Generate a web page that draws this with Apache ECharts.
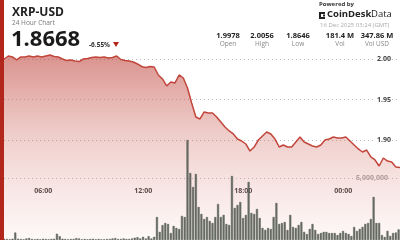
<!DOCTYPE html>
<html><head><meta charset="utf-8">
<script src="https://cdn.jsdelivr.net/npm/echarts@6/dist/echarts.min.js"></script>
<style>html,body{margin:0;padding:0;background:#fff}#c{width:400px;height:240px}</style>
</head><body><div id="c"></div>
<script>
// Price every 15 minutes from 03:24 (15 Dec) to 03:24 (16 Dec)
const priceStepMin = 15;
const prices = [1.9975,2.0000,2.0037,2.0025,1.9988,2.0025,2.0025,2.0037,2.0025,2.0037,
2.0025,2.0037,2.0049,2.0031,2.0025,2.0000,1.9982,1.9988,1.9975,1.9969,
2.0000,2.0006,2.0018,2.0025,2.0018,2.0025,2.0012,2.0018,2.0037,1.9994,
1.9982,1.9975,1.9963,1.9939,1.9908,1.9896,1.9908,1.9902,1.9804,1.9755,
1.9669,1.9718,1.9706,1.9804,1.9767,1.9644,1.9460,1.9288,1.9264,1.9350,
1.9337,1.9337,1.9288,1.9227,1.9166,1.9117,1.9080,1.9018,1.8994,1.8957,
1.8871,1.8920,1.9006,1.9055,1.9104,1.9080,1.9018,1.8920,1.8945,1.8920,
1.8920,1.8982,1.9043,1.8982,1.8957,1.8932,1.8920,1.8945,1.9006,1.9018,
1.9043,1.9031,1.9031,1.9043,1.8994,1.8945,1.8896,1.8859,1.8883,1.8798,
1.8761,1.8687,1.8785,1.8748,1.8736,1.8675,1.8668];
// Volume every 10 minutes, in millions
const volStepMin = 10;
const volumesM = [0.05,0.1,0.08,0.05,0.1,0.6,0.1,0.08,0.05,0.12,
0.15,0.08,0.05,0.08,0.05,0.1,0.08,0.05,0.08,0.1,
0.5,0.3,0.1,0.08,0.05,0.08,0.08,0.15,0.12,0.05,
0.08,0.05,0.08,0.1,0.05,0.08,0.05,0.05,0.08,0.08,
0.12,0.15,0.08,0.08,0.12,0.08,0.08,0.12,0.18,0.22,
0.12,0.25,0.12,0.3,0.12,0.25,1.85,0.65,1.2,1.37,
1.29,0.56,1.13,0.97,0.89,1.94,1.85,8.06,5.4,4.27,
5.32,2.66,2.1,1.69,1.85,1.53,1.37,1.85,2.9,1.85,
2.02,1.29,1.21,5.16,2.58,2.82,3.06,1.77,2.02,4.68,
2.18,2.1,2.5,1.77,0.97,0.81,0.97,0.89,1.85,2.98,
1.29,1.37,1.45,0.81,2.02,1.05,0.97,1.21,1.45,0.65,
0.48,0.89,1.29,0.81,0.48,0.56,0.65,0.65,0.56,0.56,
0.56,0.4,0.56,0.73,0.56,0.48,0.32,1.05,0.73,0.89,
1.05,1.29,1.37,1.69,3.47,1.37,1.37,0.4,0.24,0.73,
0.32,0.56,0.6,0.85];
const timeTicks = [156, 516, 876, 1236];
const timeLabels = ['06:00', '12:00', '18:00', '00:00'];
const priceTicks = [1.90, 1.95, 2.00];
const volTicks = [5000000];
const title = 'XRP-USD';
const subtitle = '24 Hour Chart';
const lastPrice = '1.8668';
const change = '-6.55%';
const statValues = ['1.9978', '2.0056', '1.8646', '181.4 M', '347.86 M'];
const statNames = ['Open', 'High', 'Low', 'Vol', 'Vol USD'];
const dateText = '16 Dec 2025 03:24 (GMT)';

const FONT = '"Open Sans", "Noto Sans", sans-serif';
const chart = echarts.init(document.getElementById('c'), null, {renderer: 'canvas'});
const priceData = prices.map((p, i) => [i * priceStepMin, p]);
const volData = volumesM.map((v, i) => [i * volStepMin + volStepMin / 2, v * 1e6]);
const statX = [228, 262, 298, 340, 377];

const graphics = [
  {type: 'rect', left: 0, top: 0, shape: {width: 4, height: 240}, style: {fill: '#b3261b'}, z: 100},
  {type: 'text', x: 12, y: 7, style: {text: title, font: 'bold 12px ' + FONT, fill: '#222'}, z: 100},
  {type: 'text', x: 12, y: 20, style: {text: subtitle, font: '6.5px ' + FONT, fill: '#777'}, z: 100},
  {type: 'text', x: 11, y: 29, style: {text: lastPrice, font: 'bold 22px ' + FONT, fill: '#1a1a1a'}, z: 100},
  {type: 'text', x: 89, y: 41.5, style: {text: change, font: 'bold 6.5px ' + FONT, fill: '#333'}, z: 100},
  {type: 'polygon', shape: {points: [[113, 42], [119, 42], [116, 47]]}, style: {fill: '#b3261b'}, z: 100},
  {type: 'text', x: 319, y: 1, style: {text: 'Powered by', font: 'bold 6px ' + FONT, fill: '#333'}, z: 100},
  {type: 'rect', shape: {x: 319, y: 12, width: 2, height: 7}, style: {fill: '#222'}, z: 100},
  {type: 'rect', shape: {x: 319, y: 12, width: 6, height: 2}, style: {fill: '#222'}, z: 100},
  {type: 'rect', shape: {x: 319, y: 17, width: 6, height: 2}, style: {fill: '#222'}, z: 100},
  {type: 'rect', shape: {x: 323, y: 14.5, width: 2, height: 2}, style: {fill: '#222'}, z: 100},
  {type: 'text', x: 327, y: 9, style: {text: 'CoinDesk', font: 'bold 9.5px ' + FONT, fill: '#222'}, z: 100},
  {type: 'text', x: 371, y: 9, style: {text: 'Data', font: '9.5px ' + FONT, fill: '#222'}, z: 100},
  {type: 'text', x: 320, y: 22, style: {text: dateText, font: '6px ' + FONT, fill: '#aaa'}, z: 100}
];
statValues.forEach((v, i) => {
  graphics.push({type: 'text', x: statX[i], y: 32, style: {text: v, font: 'bold 7.5px ' + FONT, fill: '#222', align: 'center'}, z: 100});
  graphics.push({type: 'text', x: statX[i], y: 41, style: {text: statNames[i], font: '6.5px ' + FONT, fill: '#888', align: 'center'}, z: 100});
});

chart.setOption({
  animation: false,
  backgroundColor: '#fff',
  grid: [
    {left: 0, right: 0, top: 0, bottom: 0},
    {left: 0, right: 0, top: 130, bottom: 0}
  ],
  xAxis: [
    {gridIndex: 0, type: 'value', min: 0, max: 1440, show: false},
    {gridIndex: 1, type: 'value', min: 0, max: 1440,
     axisLine: {show: false}, axisTick: {show: false}, splitLine: {show: false},
     axisLabel: {inside: true, margin: 46, customValues: timeTicks,
       formatter: v => timeLabels[timeTicks.indexOf(v)] || '',
       color: '#444', fontWeight: 'bold', fontSize: 7, fontFamily: FONT}}
  ],
  yAxis: [
    {gridIndex: 0, type: 'value', position: 'right', min: 1.7779, max: 2.0724,
     axisLine: {show: false}, axisTick: {show: false, customValues: priceTicks},
     splitLine: {show: true, lineStyle: {color: '#bbb', type: [1, 3], width: 1}},
     axisLabel: {inside: true, margin: 8, customValues: priceTicks, formatter: v => v.toFixed(2),
       color: '#444', fontWeight: 'bold', fontSize: 7, fontFamily: FONT,
       backgroundColor: '#fff', padding: [1, 1, 1, 4]}},
    {gridIndex: 1, type: 'value', position: 'right', min: 0, max: 8870968,
     axisLine: {show: false}, axisTick: {show: false, customValues: volTicks},
     splitLine: {show: true, lineStyle: {color: '#bbb', type: [1, 3], width: 1}},
     axisLabel: {inside: true, margin: 12, customValues: volTicks,
       formatter: v => v.toLocaleString('en-US'),
       color: '#aaa', fontWeight: 'bold', fontSize: 7, fontFamily: FONT}}
  ],
  series: [
    {type: 'line', xAxisIndex: 0, yAxisIndex: 0, data: priceData, symbol: 'none',
     lineStyle: {color: '#c2463b', width: 1.5},
     areaStyle: {origin: 'start', color: new echarts.graphic.LinearGradient(0, 0, 0, 1, [
       {offset: 0, color: 'rgba(188,62,52,0.8)'},
       {offset: 0.45, color: 'rgba(200,85,75,0.4)'},
       {offset: 1, color: 'rgba(225,130,120,0.08)'}])},
     z: 2},
    {type: 'bar', xAxisIndex: 1, yAxisIndex: 1, data: volData, barWidth: 2,
     itemStyle: {color: '#6b7167', borderColor: '#454a43', borderWidth: 0.4}, z: 3}
  ],
  graphic: graphics
});
</script></body></html>
